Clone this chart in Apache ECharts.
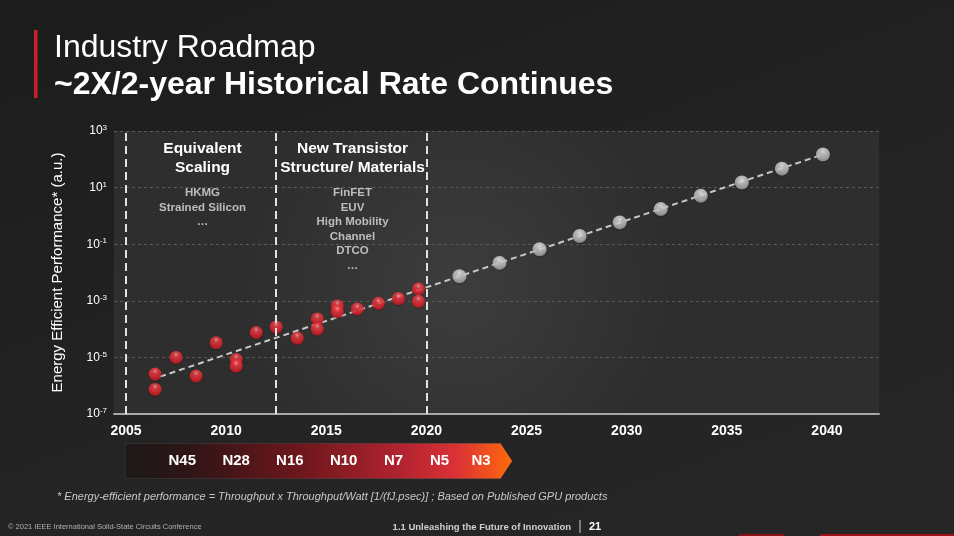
<!DOCTYPE html>
<html>
<head>
<meta charset="utf-8">
<title>Industry Roadmap</title>
<script src="https://cdn.jsdelivr.net/npm/echarts@6/dist/echarts.min.js"></script>
<style>
  html, body { margin: 0; padding: 0; }
  body { background: linear-gradient(160deg, #1c1c1c 0%, #242424 60%, #262626 100%); }
  #roadmap { width: 954px; height: 536px; }
</style>
</head>
<body>
<div id="roadmap"></div>
<script>
// measured GPU products (red), year vs log10(energy efficient performance)
var measuredYear = [2006.45, 2006.45, 2007.5, 2008.5, 2009.5, 2010.5, 2010.5, 2011.5, 2012.5, 2013.55,
                    2014.55, 2014.55, 2015.55, 2015.55, 2016.55, 2017.6, 2018.6, 2019.6, 2019.6];
var measuredLog = [-5.59, -6.13, -5.0, -5.66, -4.48, -5.07, -5.31, -4.12, -3.93, -4.32,
                   -3.64, -4.0, -3.18, -3.38, -3.29, -3.09, -2.92, -2.58, -3.02];

// projection (grey)
var projectedYear = [2021.65, 2023.65, 2025.65, 2027.65, 2029.65, 2031.7, 2033.7, 2035.75, 2037.75, 2039.8];
var projectedLog = [-2.13, -1.66, -1.18, -0.71, -0.23, 0.24, 0.71, 1.18, 1.67, 2.17];

// ~2X/2-year trend line
var trendYear = [2006.7, 2039.8];
var trendLog = [-5.68, 2.17];

// era boundaries
var eraBounds = [2005, 2012.5, 2020];

// x tick labels, y tick exponents
var yearTicks = [2005, 2010, 2015, 2020, 2025, 2030, 2035, 2040];
var expTicks = [-7, -5, -3, -1, 1, 3];

// process nodes on the arrow
var nodeNames = ['N45', 'N28', 'N16', 'N10', 'N7', 'N5', 'N3'];
var nodeYear = [2007.81, 2010.5, 2013.18, 2015.87, 2018.36, 2020.66, 2022.73];

var FONT = "'Liberation Sans', Arial, Helvetica, sans-serif";

function pairs(xs, ys) {
    return xs.map(function (x, i) { return [x, ys[i]]; });
}

function ball(c0, c1, c2, c3) {
    return {
        type: 'radial', x: 0.5, y: 0.28, r: 0.8,
        colorStops: [
            { offset: 0, color: c0 },
            { offset: 0.22, color: c1 },
            { offset: 0.65, color: c2 },
            { offset: 1, color: c3 }
        ]
    };
}

var myChart = echarts.init(document.getElementById('roadmap'), null, { renderer: 'canvas' });

var option = {
    backgroundColor: 'transparent',
    animation: false,
    textStyle: { fontFamily: FONT },
    grid: [
        {
            left: 114, right: 75, top: 131, bottom: 122,
            show: true,
            borderWidth: 0,
            backgroundColor: {
                type: 'radial', x: 0.45, y: 0.55, r: 0.75,
                colorStops: [
                    { offset: 0, color: '#3d3d3d' },
                    { offset: 1, color: '#2e2e2e' }
                ]
            }
        },
        { left: 114, right: 75, top: 443, height: 35 }
    ],
    xAxis: [
        {
            type: 'value',
            gridIndex: 0,
            min: 2004.4,
            max: 2042.6,
            splitLine: { show: false },
            axisTick: { show: false },
            axisLine: { onZero: false, lineStyle: { color: '#a8a8a8', width: 2 } },
            axisLabel: {
                customValues: yearTicks,
                formatter: function (v) { return String(v); },
                color: '#ffffff',
                fontSize: 14,
                fontWeight: 'bold',
                margin: 10
            }
        },
        {
            type: 'value',
            gridIndex: 1,
            min: 2004.4,
            max: 2042.6,
            show: false
        }
    ],
    yAxis: [
        {
            type: 'value',
            gridIndex: 0,
            min: -7,
            max: 3,
            interval: 2,
            name: 'Energy Efficient Performance* (a.u.)',
            nameLocation: 'middle',
            nameGap: 49,
            nameTextStyle: { color: '#ffffff', fontSize: 15 },
            axisLine: { show: false },
            axisTick: { show: false },
            splitLine: {
                lineStyle: { color: '#5a5a5a', width: 1, type: [3, 3] }
            },
            axisLabel: {
                margin: 7,
                formatter: function (v) {
                    return expTicks.indexOf(v) >= 0 ? '{b|10}{s|' + v + '}' : '';
                },
                rich: {
                    b: { color: '#ffffff', fontSize: 12, lineHeight: 14 },
                    s: { color: '#ffffff', fontSize: 8, lineHeight: 9, verticalAlign: 'top' }
                }
            }
        },
        {
            type: 'value',
            gridIndex: 1,
            min: 0,
            max: 1,
            show: false
        }
    ],
    series: [
        {
            name: 'trend',
            type: 'line',
            data: pairs(trendYear, trendLog),
            symbol: 'none',
            z: 2,
            lineStyle: { color: '#c8c8c8', width: 2, type: [6, 4] },
            markLine: {
                silent: true,
                symbol: ['none', 'none'],
                label: { show: false },
                lineStyle: { color: '#e2e2e2', width: 2, type: [8, 5] },
                data: eraBounds.map(function (x) { return { xAxis: x }; })
            }
        },
        {
            name: 'measured',
            type: 'scatter',
            data: pairs(measuredYear, measuredLog),
            symbolSize: 13,
            z: 4,
            itemStyle: {
                color: ball('#ffb4b4', '#f5434a', '#e6222c', '#b0121b'),
                shadowColor: 'rgba(0,0,0,0.3)',
                shadowBlur: 2,
                shadowOffsetY: 1
            }
        },
        {
            name: 'projected',
            type: 'scatter',
            data: pairs(projectedYear, projectedLog),
            symbolSize: 14,
            z: 4,
            itemStyle: {
                color: ball('#ffffff', '#dedede', '#bdbdbd', '#858585'),
                shadowColor: 'rgba(0,0,0,0.3)',
                shadowBlur: 2,
                shadowOffsetY: 1
            }
        },
        {
            name: 'nodes',
            type: 'scatter',
            xAxisIndex: 1,
            yAxisIndex: 1,
            z: 10,
            symbolSize: 1,
            itemStyle: { color: 'transparent' },
            data: nodeYear.map(function (x, i) { return { name: nodeNames[i], value: [x, 0.5] }; }),
            label: {
                show: true,
                position: 'inside',
                formatter: '{b}',
                color: '#ffffff',
                opacity: 1,
                textBorderWidth: 0,
                fontSize: 15,
                fontWeight: 'bold'
            }
        }
    ],
    graphic: [
        // title
        { type: 'rect', shape: { x: 34, y: 30, width: 3.5, height: 68 }, style: { fill: '#c8202a' } },
        {
            type: 'text', x: 54, y: 48.5,
            style: { text: 'Industry Roadmap', fill: '#ffffff', font: 'normal 32px ' + FONT, textVerticalAlign: 'middle' }
        },
        {
            type: 'text', x: 54, y: 85,
            style: { text: '~2X/2-year Historical Rate Continues', fill: '#ffffff', font: 'bold 32px ' + FONT, textVerticalAlign: 'middle' }
        },
        // era annotations
        {
            type: 'text', x: 202.5, y: 158.5, z: 20,
            style: { text: 'Equivalent\nScaling', fill: '#ffffff', font: 'bold 15.5px ' + FONT, lineHeight: 19, textAlign: 'center', textVerticalAlign: 'middle' }
        },
        {
            type: 'text', x: 202.5, y: 207.5, z: 20,
            style: { text: 'HKMG\nStrained Silicon\n…', fill: '#bdbdbd', font: 'bold 11.5px ' + FONT, lineHeight: 14.5, textAlign: 'center', textVerticalAlign: 'middle' }
        },
        {
            type: 'text', x: 352.5, y: 158.5, z: 20,
            style: { text: 'New Transistor\nStructure/ Materials', fill: '#ffffff', font: 'bold 15.5px ' + FONT, lineHeight: 19, textAlign: 'center', textVerticalAlign: 'middle' }
        },
        {
            type: 'text', x: 352.5, y: 229.25, z: 20,
            style: { text: 'FinFET\nEUV\nHigh Mobility\nChannel\nDTCO\n…', fill: '#bdbdbd', font: 'bold 11.5px ' + FONT, lineHeight: 14.5, textAlign: 'center', textVerticalAlign: 'middle' }
        },
        // process node arrow
        {
            type: 'polygon', z: 5,
            shape: { points: [[125, 443.5], [500.5, 443.5], [512, 461], [500.5, 478.5], [125, 478.5]] },
            style: {
                fill: {
                    type: 'linear', x: 0, y: 0, x2: 1, y2: 0,
                    colorStops: [
                        { offset: 0, color: '#1e1a1a' },
                        { offset: 0.15, color: '#2c1516' },
                        { offset: 0.45, color: '#6c171c' },
                        { offset: 0.72, color: '#b42430' },
                        { offset: 0.86, color: '#dc3236' },
                        { offset: 1, color: '#ff6a0a' }
                    ]
                },
                stroke: 'rgba(255,255,255,0.08)',
                lineWidth: 1
            }
        },
        // footnote and footer
        {
            type: 'text', x: 57, y: 497,
            style: {
                text: '* Energy-efficient performance = Throughput x Throughput/Watt [1/(fJ.psec)] ; Based on Published GPU products',
                fill: '#c8c8c8', font: 'italic 11px ' + FONT, textVerticalAlign: 'middle'
            }
        },
        {
            type: 'text', x: 8, y: 527,
            style: { text: '© 2021 IEEE International Solid-State Circuits Conference', fill: '#b0b0b0', font: 'normal 7.5px ' + FONT, textVerticalAlign: 'middle' }
        },
        {
            type: 'text', x: 571, y: 527,
            style: { text: '1.1 Unleashing the Future of Innovation', fill: '#cfcfcf', font: 'bold 9.5px ' + FONT, textAlign: 'right', textVerticalAlign: 'middle' }
        },
        { type: 'rect', shape: { x: 579.5, y: 520, width: 1, height: 13 }, style: { fill: '#cfcfcf' } },
        {
            type: 'text', x: 589, y: 527,
            style: { text: '21', fill: '#ffffff', font: 'bold 11px ' + FONT, textVerticalAlign: 'middle' }
        },
        { type: 'rect', shape: { x: 739, y: 534, width: 45, height: 2 }, style: { fill: '#8c1015' } },
        { type: 'rect', shape: { x: 820, y: 534, width: 134, height: 2 }, style: { fill: '#a01218' } }
    ]
};

myChart.setOption(option);
</script>
</body>
</html>
